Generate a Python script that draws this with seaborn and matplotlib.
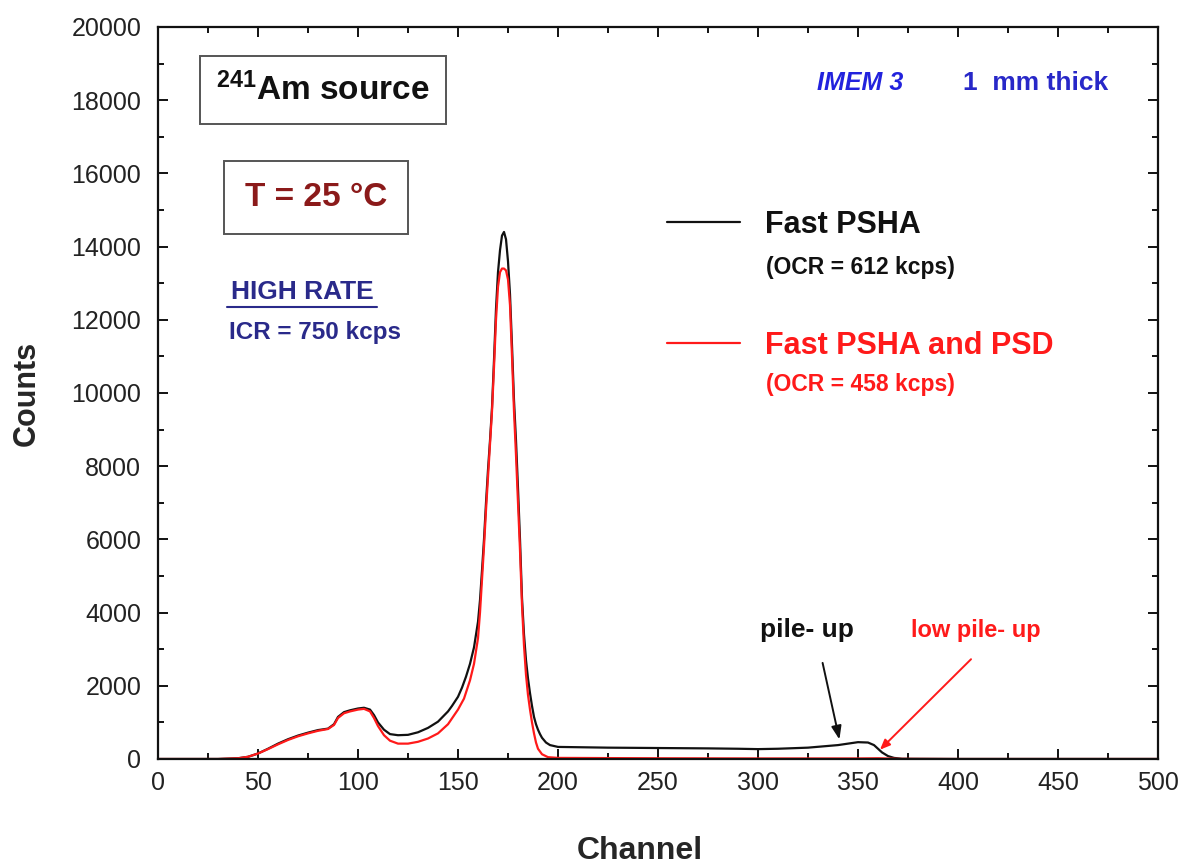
import numpy as np
import pandas as pd
import matplotlib
matplotlib.use("Agg")
import matplotlib.pyplot as plt
from matplotlib.lines import Line2D
from matplotlib.ticker import MultipleLocator
import seaborn as sns

# ---------------- data ----------------
ch_black = [0, 30, 40, 45, 50, 55, 60, 65, 70, 75, 80, 85, 88, 90, 93, 96, 100, 103, 106, 108,
            110, 113, 116, 120, 125, 130, 135, 140, 145, 147, 150, 152, 154, 156, 158, 160, 161,
            162, 163, 164, 165, 166, 167, 168, 169, 170, 171, 172, 173, 174, 175, 176, 177, 178,
            179, 180, 181, 182, 183, 184, 185, 186, 187, 188, 189, 190, 191, 192, 194, 196, 200,
            225, 250, 275, 290, 300, 310, 325, 340, 345, 350, 355, 358, 360, 362, 365, 368, 372,
            400, 500]
cnt_black = [0, 0, 20, 60, 150, 280, 420, 540, 640, 720, 790, 830, 950, 1150, 1280, 1330, 1380,
             1400, 1350, 1200, 1000, 800, 680, 650, 660, 730, 850, 1020, 1300, 1450, 1700, 1950,
             2250, 2600, 3050, 3750, 4340, 5150, 6000, 7000, 7900, 8700, 9600, 10900, 12300,
             13300, 13900, 14300, 14400, 14200, 13600, 12700, 11300, 9800, 8700, 7400, 6000,
             4400, 3400, 2700, 2200, 1800, 1450, 1150, 950, 800, 680, 580, 450, 380, 330, 310,
             300, 290, 280, 270, 280, 310, 380, 420, 460, 450, 380, 280, 180, 80, 30, 5, 0, 0]

ch_red = [0, 30, 40, 45, 50, 55, 60, 65, 70, 75, 80, 85, 88, 90, 93, 96, 100, 103, 106, 108,
          110, 113, 116, 120, 125, 130, 135, 140, 145, 150, 153, 156, 158, 160, 161, 162, 163,
          164, 165, 166, 167, 168, 169, 170, 171, 172, 173, 174, 175, 176, 177, 178, 179, 180,
          181, 182, 183, 184, 185, 186, 187, 188, 189, 190, 192, 195, 200, 250, 300, 350, 360,
          370, 400, 500]
cnt_red = [0, 0, 20, 60, 150, 270, 400, 520, 620, 700, 770, 820, 930, 1120, 1250, 1300, 1350,
           1370, 1300, 1120, 900, 650, 500, 420, 420, 470, 560, 700, 950, 1350, 1650, 2150,
           2600, 3300, 4000, 4900, 5800, 6800, 7700, 8600, 9500, 10700, 12000, 12900, 13300,
           13400, 13400, 13350, 13100, 12400, 11000, 9500, 8300, 7000, 5700, 4200, 3100, 2300,
           1750, 1350, 1000, 700, 450, 280, 130, 50, 30, 20, 15, 15, 20, 5, 0, 0]

series_names = ["Fast PSHA", "Fast PSHA and PSD"]
ocr_labels = ["(OCR = 612 kcps)", "(OCR = 458 kcps)"]
x_ticks = [0, 50, 100, 150, 200, 250, 300, 350, 400, 450, 500]
y_ticks = [0, 2000, 4000, 6000, 8000, 10000, 12000, 14000, 16000, 18000, 20000]

df = pd.concat([
    pd.DataFrame({"Channel": ch_black, "Counts": cnt_black, "series": series_names[0]}),
    pd.DataFrame({"Channel": ch_red, "Counts": cnt_red, "series": series_names[1]}),
], ignore_index=True)

# ---------------- style ----------------
sns.set_style("ticks")
plt.rcParams["font.family"] = ["Liberation Sans", "DejaVu Sans"]
plt.rcParams["mathtext.fontset"] = "custom"
plt.rcParams["mathtext.bf"] = "Liberation Sans:bold"
plt.rcParams["mathtext.rm"] = "Liberation Sans:bold"

fig = plt.figure(figsize=(11.88, 8.64), dpi=100)
ax = fig.add_axes([158 / 1188, 1 - 759 / 864, 1000 / 1188, 732 / 864])

palette = {series_names[0]: "#111111", series_names[1]: "#ff1a1a"}
sns.lineplot(data=df, x="Channel", y="Counts", hue="series", palette=palette,
             linewidth=1.6, ax=ax, legend=False, sort=False)

ax.set_xlim(0, 500)
ax.set_ylim(0, 20000)
ax.set_xticks(x_ticks)
ax.set_yticks(y_ticks)
ax.xaxis.set_minor_locator(MultipleLocator(25))
ax.yaxis.set_minor_locator(MultipleLocator(1000))
ax.tick_params(which="both", direction="in", top=True, right=True, width=1.4, colors="#111111")
ax.tick_params(which="major", length=7)
ax.tick_params(which="minor", length=4)
ax.tick_params(axis="x", which="major", labelsize=18, pad=9, labelcolor="#222222")
ax.tick_params(axis="y", which="major", labelsize=18, pad=12, labelcolor="#222222")
for sp in ax.spines.values():
    sp.set_linewidth(1.6)
    sp.set_color("#111111")

ax.set_xlabel("Channel", fontsize=23, fontweight="bold")
ax.set_ylabel("Counts", fontsize=22, fontweight="bold")
ax.xaxis.set_label_coords(0.482, -0.105)
ax.xaxis.label.set_va("top")
ax.yaxis.set_label_coords(-0.131, 0.5)
ax.yaxis.label.set_va("center")

# ---------------- legend ----------------
handles = [Line2D([], [], color=palette[n], lw=1.6) for n in series_names]
leg = ax.legend(handles, series_names, loc="upper left", bbox_to_anchor=(0.509, 0.750),
                frameon=False, fontsize=22, handlelength=2.4, handletextpad=0.8,
                labelspacing=2.98, borderpad=0, borderaxespad=0)
for t, n in zip(leg.get_texts(), series_names):
    t.set_color(palette[n])
    t.set_fontweight("bold")
ax.text(0.6075, 0.671, ocr_labels[0], transform=ax.transAxes, fontsize=16.5,
        fontweight="bold", color="#111111", ha="left", va="center")
ax.text(0.6075, 0.511, ocr_labels[1], transform=ax.transAxes, fontsize=16.5,
        fontweight="bold", color="#ff1a1a", ha="left", va="center")

# ---------------- annotations ----------------
ax.text(0.165, 0.914, r"$\mathbf{^{241}}$Am source", transform=ax.transAxes, fontsize=24,
        fontweight="bold", ha="center", va="center", color="#111111",
        bbox=dict(boxstyle="square,pad=0.5", fc="white", ec="#555555", lw=1.4))
ax.text(0.158, 0.767, "T = 25 °C", transform=ax.transAxes, fontsize=24,
        fontweight="bold", ha="center", va="center", color="#8b1a1a",
        bbox=dict(boxstyle="square,pad=0.62", fc="white", ec="#555555", lw=1.4))

ax.text(0.702, 0.924, "IMEM 3", transform=ax.transAxes, fontsize=18, fontweight="bold",
        fontstyle="italic", color="#2222dd", ha="center", va="center")
ax.text(0.878, 0.924, "1  mm thick", transform=ax.transAxes, fontsize=19, fontweight="bold",
        color="#2828c8", ha="center", va="center")

ax.text(0.144, 0.638, "HIGH RATE", transform=ax.transAxes, fontsize=19, fontweight="bold",
        color="#2a2a8a", ha="center", va="center")
ax.plot([0.069, 0.219], [0.6175, 0.6175], transform=ax.transAxes, color="#2a2a8a", lw=1.5)
ax.text(0.157, 0.582, "ICR = 750 kcps", transform=ax.transAxes, fontsize=17.5, fontweight="bold",
        color="#2a2a8a", ha="center", va="center")

ax.text(0.649, 0.176, "pile- up", transform=ax.transAxes, fontsize=19, fontweight="bold",
        color="#111111", ha="center", va="center")
ax.annotate("", xy=(0.682, 0.023), xytext=(0.664, 0.135), xycoords="axes fraction",
            arrowprops=dict(arrowstyle="-|>,head_length=0.8,head_width=0.3", color="#111111", lw=1.4))
ax.text(0.818, 0.176, "low pile- up", transform=ax.transAxes, fontsize=17, fontweight="bold",
        color="#ff1a1a", ha="center", va="center")
ax.annotate("", xy=(0.720, 0.010), xytext=(0.815, 0.139), xycoords="axes fraction",
            arrowprops=dict(arrowstyle="-|>,head_length=0.6,head_width=0.25", color="#ff1a1a", lw=1.4))

fig.savefig("out.png", dpi=100)
